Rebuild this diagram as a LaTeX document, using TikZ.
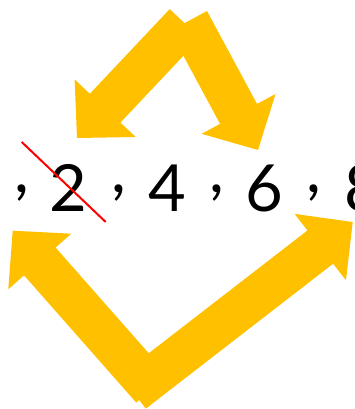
\documentclass[tikz,border=0pt]{standalone}
\usepackage{fontspec}
\setmainfont{Lato}
\usetikzlibrary{calc}
\definecolor{arrowgold}{RGB}{255,192,0}
\newcommand\fatarrow[2]{%
  \coordinate (fb) at ($(#2)!41pt!(#1)$);
  \fill[arrowfill] ($(#1)!21pt!90:(#2)$) -- ($(fb)!21pt!90:(#2)$) -- ($(fb)!42pt!90:(#2)$) -- (#2)
    -- ($(fb)!42pt!-90:(#2)$) -- ($(fb)!21pt!-90:(#2)$) -- ($(#1)!21pt!-90:(#2)$) -- cycle;}
\tikzset{
  arrowfill/.style={fill=arrowgold},
  digit/.style={inner sep=0pt, anchor=base, font=\fontsize{65}{78}\selectfont},
  commasep/.style={inner sep=0pt, anchor=center, font=\fontsize{65}{78}\selectfont},
  strike/.style={draw=red, line width=2pt}
}
\begin{document}
\begin{tikzpicture}[x=1pt,y=-1pt]
\useasboundingbox (0,0) rectangle (355,409);
% arrow end points
\coordinate (tlT) at (185,23.5);  \coordinate (tlP) at (77,138);
\coordinate (trT) at (188.5,21);  \coordinate (trP) at (258,150);
\coordinate (blT) at (152,388.7); \coordinate (blP) at (12.7,230.7);
\coordinate (brT) at (133,392);   \coordinate (brP) at (352.7,222);
\fatarrow{tlT}{tlP}
\fatarrow{trT}{trP}
\fatarrow{blT}{blP}
\fatarrow{brT}{brP}
% sequence
\node[commasep] (c1) at (21.5,193) {,};
\node[digit] (d2) at (68.5,211) {2};
\node[commasep] (c2) at (118.5,193) {,};
\node[digit] (d4) at (167.5,211) {4};
\node[commasep] (c3) at (216.5,193) {,};
\node[digit] (d6) at (264.5,211) {6};
\node[commasep] (c4) at (313.5,193) {,};
\node[digit] (d8) at (363,211) {8};
% strike-out
\coordinate (s1) at (21.7,142);
\coordinate (s2) at (105.7,222);
\draw[strike] (s1) -- (s2);
\end{tikzpicture}
\end{document}
